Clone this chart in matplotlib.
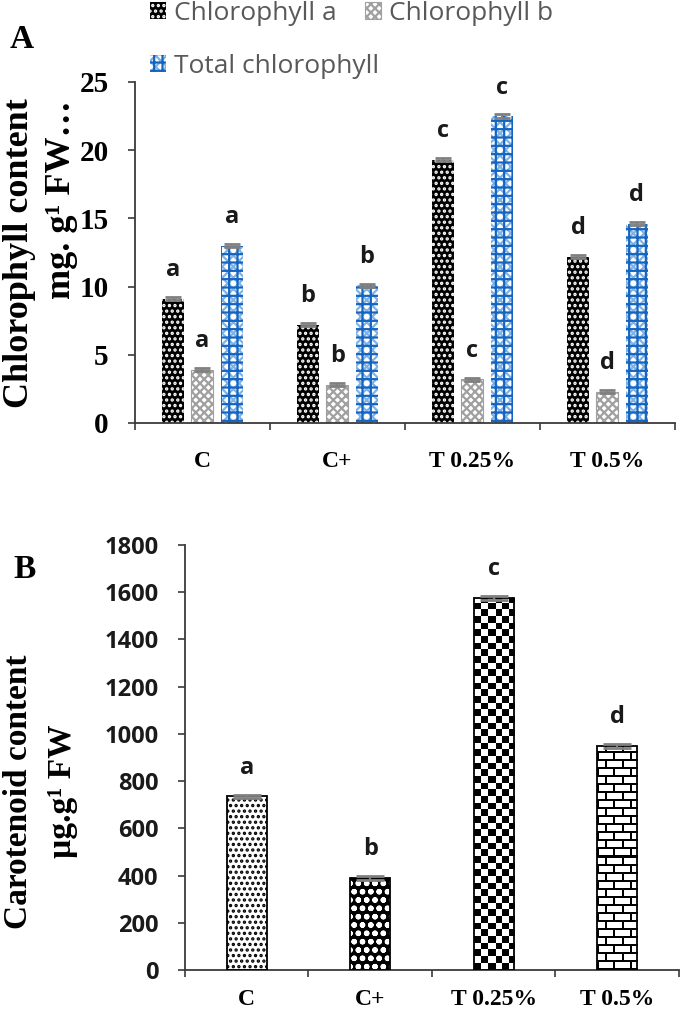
import numpy as np
import matplotlib
matplotlib.use("Agg")
import matplotlib.pyplot as plt

# ============================================================
# DATA
# ============================================================

groups = ["C", "C+", "T 0.25%", "T 0.5%"]

chl_a = [9.1, 7.2, 19.3, 12.2]
chl_b = [3.9, 2.8, 3.2, 2.3]
chl_total = [13.0, 10.1, 22.5, 14.6]
chl_err = [0.12, 0.12, 0.12, 0.12]
chl_letters = ["a", "b", "c", "d"]

carot = [735, 390, 1575, 950]
carot_err = [8, 8, 8, 8]
carot_letters = ["a", "b", "c", "d"]

serif = "Liberation Serif"
sans = "Open Sans"
plt.rcParams["hatch.linewidth"] = 1.6

fig = plt.figure(figsize=(6.85, 10.15), dpi=100)


def style_axes(ax, xpad):
    for s in ["top", "right"]:
        ax.spines[s].set_visible(False)
    for s in ["left", "bottom"]:
        ax.spines[s].set_color("#3a3a3a")
        ax.spines[s].set_linewidth(1.3)
    x = np.arange(len(groups))
    ax.set_xlim(-0.5, len(groups) - 0.5)
    ax.set_xticks(np.arange(len(groups) + 1) - 0.5)
    ax.set_xticklabels([])
    ax.set_xticks(x, minor=True)
    ax.set_xticklabels(groups, minor=True, fontfamily=serif, fontweight="bold", fontsize=17)
    ax.tick_params(axis="x", which="major", direction="out", length=5, width=1.2, color="#3a3a3a")
    ax.tick_params(axis="x", which="minor", length=0, pad=xpad)
    ax.tick_params(axis="y", direction="out", length=5, width=1.2, color="#3a3a3a", pad=14)


def letters_on(ax, xs, tops, letters):
    for xi, t, l in zip(xs, tops, letters):
        ax.annotate(l, (xi, t), xytext=(0, 15), textcoords="offset points",
                    ha="center", va="baseline", fontfamily=sans, fontweight="bold",
                    fontsize=17, color="#1a1a1a")


def image_fill(ax, patch, kind):
    x0, w, h = patch.get_x(), patch.get_width(), patch.get_height()
    p0 = ax.transData.transform((x0, 0))
    p1 = ax.transData.transform((x0 + w, h))
    wpx = int(round(p1[0] - p0[0]))
    hpx = int(round(p1[1] - p0[1]))
    yy, xx = np.mgrid[0:hpx, 0:wpx]
    if kind == "checker":
        s = wpx / 6.0
        arr = ((yy // s + xx // s) % 2).astype(float)
    else:
        bh, bw = 8, 16
        off = ((yy // bh) % 2) * (bw // 2)
        lines = ((yy % bh) < 2) | (((xx + off) % bw) < 2)
        arr = 1.0 - lines
    ax.imshow(arr, cmap="gray", vmin=0, vmax=1, extent=(x0, x0 + w, 0, h),
              origin="lower", aspect="auto", interpolation="nearest",
              zorder=2, clip_path=patch)


# ============================================================
# PANEL A - CHLOROPHYLL
# ============================================================

axA = fig.add_axes([0.197, 0.5833, 0.7883, 0.336])
x = np.arange(len(groups))
bw = 0.163
off = 0.218

bars_a = axA.bar(x - off, chl_a, bw, color="black", edgecolor="white", hatch="...", linewidth=0, zorder=2)
bars_b = axA.bar(x, chl_b, bw, color="white", edgecolor="#a0a0a0", hatch="xxxx", linewidth=0.8, zorder=2)
bars_t = axA.bar(x + off, chl_total, bw, color="white", edgecolor="#7fb3e6", hatch="xxx", linewidth=0, zorder=2)
bars_t2 = axA.bar(x + off, chl_total, bw, color="none", edgecolor="#1565c0", hatch="++", linewidth=0, zorder=2)

for xs, vals in [(x - off, chl_a), (x, chl_b), (x + off, chl_total)]:
    axA.errorbar(xs, vals, yerr=chl_err, fmt="none", ecolor="#808080", elinewidth=1.5,
                 capsize=6, capthick=2, zorder=3)
    letters_on(axA, xs, np.array(vals) + np.array(chl_err), chl_letters)

axA.set_ylim(0, 25)
axA.set_yticks(np.arange(0, 26, 5))
style_axes(axA, 20)
for lab in axA.get_yticklabels():
    lab.set_fontfamily(serif)
    lab.set_fontweight("bold")
    lab.set_fontsize(21)

fig.text(20 / 685, 1 - 253 / 1015, "Chlorophyll content", rotation=90, ha="center", va="center",
         fontfamily=serif, fontweight="bold", fontsize=26)
fig.text(62 / 685, 1 - 200 / 1015, "mg. g\u00b9 FW\u2026", rotation=90, ha="center", va="center",
         fontfamily=serif, fontweight="bold", fontsize=26)
fig.text(22 / 685, 1 - 40 / 1015, "A", ha="center", va="center",
         fontfamily=serif, fontweight="bold", fontsize=24)

leg_style = dict(loc="upper left", frameon=False, borderpad=0, borderaxespad=0,
                 handlelength=0.6, handleheight=0.6, handletextpad=0.3,
                 prop={"family": sans, "size": 19}, labelcolor="#595959")
fig.legend([bars_a, bars_b], ["Chlorophyll a", "Chlorophyll b"], ncol=2, columnspacing=1.1,
           bbox_to_anchor=(150 / 685, 1 - 1 / 1015), **leg_style)
fig.legend([(bars_t[0], bars_t2[0])], ["Total chlorophyll"],
           bbox_to_anchor=(150 / 685, 1 - 54 / 1015), **leg_style)

# ============================================================
# PANEL B - CAROTENOID
# ============================================================

axB = fig.add_axes([0.270, 0.0443, 0.7212, 0.4188])
axB.set_xlim(-0.5, len(groups) - 0.5)
axB.set_ylim(0, 1800)
bwB = 0.325

bars_c = axB.bar(x, carot, bwB, color="none", edgecolor="black", linewidth=1.3, zorder=3)
# per-bar fills
axB.bar(x[0], carot[0], bwB, color="white", edgecolor="black", hatch="...", linewidth=0, zorder=2)
axB.bar(x[1], carot[1], bwB, color="black", edgecolor="white", hatch="oo", linewidth=0, zorder=2)
image_fill(axB, bars_c[2], "checker")
image_fill(axB, bars_c[3], "brick")

axB.errorbar(x, carot, yerr=carot_err, fmt="none", ecolor="#808080", elinewidth=1.5,
             capsize=10, capthick=2, zorder=4)
letters_on(axB, x, np.array(carot) + np.array(carot_err), carot_letters)

axB.set_xlim(-0.5, len(groups) - 0.5)
axB.set_ylim(0, 1800)
axB.set_yticks(np.arange(0, 1801, 200))
style_axes(axB, 14)
for lab in axB.get_yticklabels():
    lab.set_fontfamily(sans)
    lab.set_fontweight("bold")
    lab.set_fontsize(17)
    lab.set_color("#1a1a1a")

fig.text(19 / 685, 1 - 792 / 1015, "Carotenoid content", rotation=90, ha="center", va="center",
         fontfamily=serif, fontweight="bold", fontsize=24)
fig.text(62 / 685, 1 - 791 / 1015, "\u00b5g.g\u00b9 FW", rotation=90, ha="center", va="center",
         fontfamily=serif, fontweight="bold", fontsize=24)
fig.text(25 / 685, 1 - 570 / 1015, "B", ha="center", va="center",
         fontfamily=serif, fontweight="bold", fontsize=24)

fig.savefig("out.png", dpi=100)
